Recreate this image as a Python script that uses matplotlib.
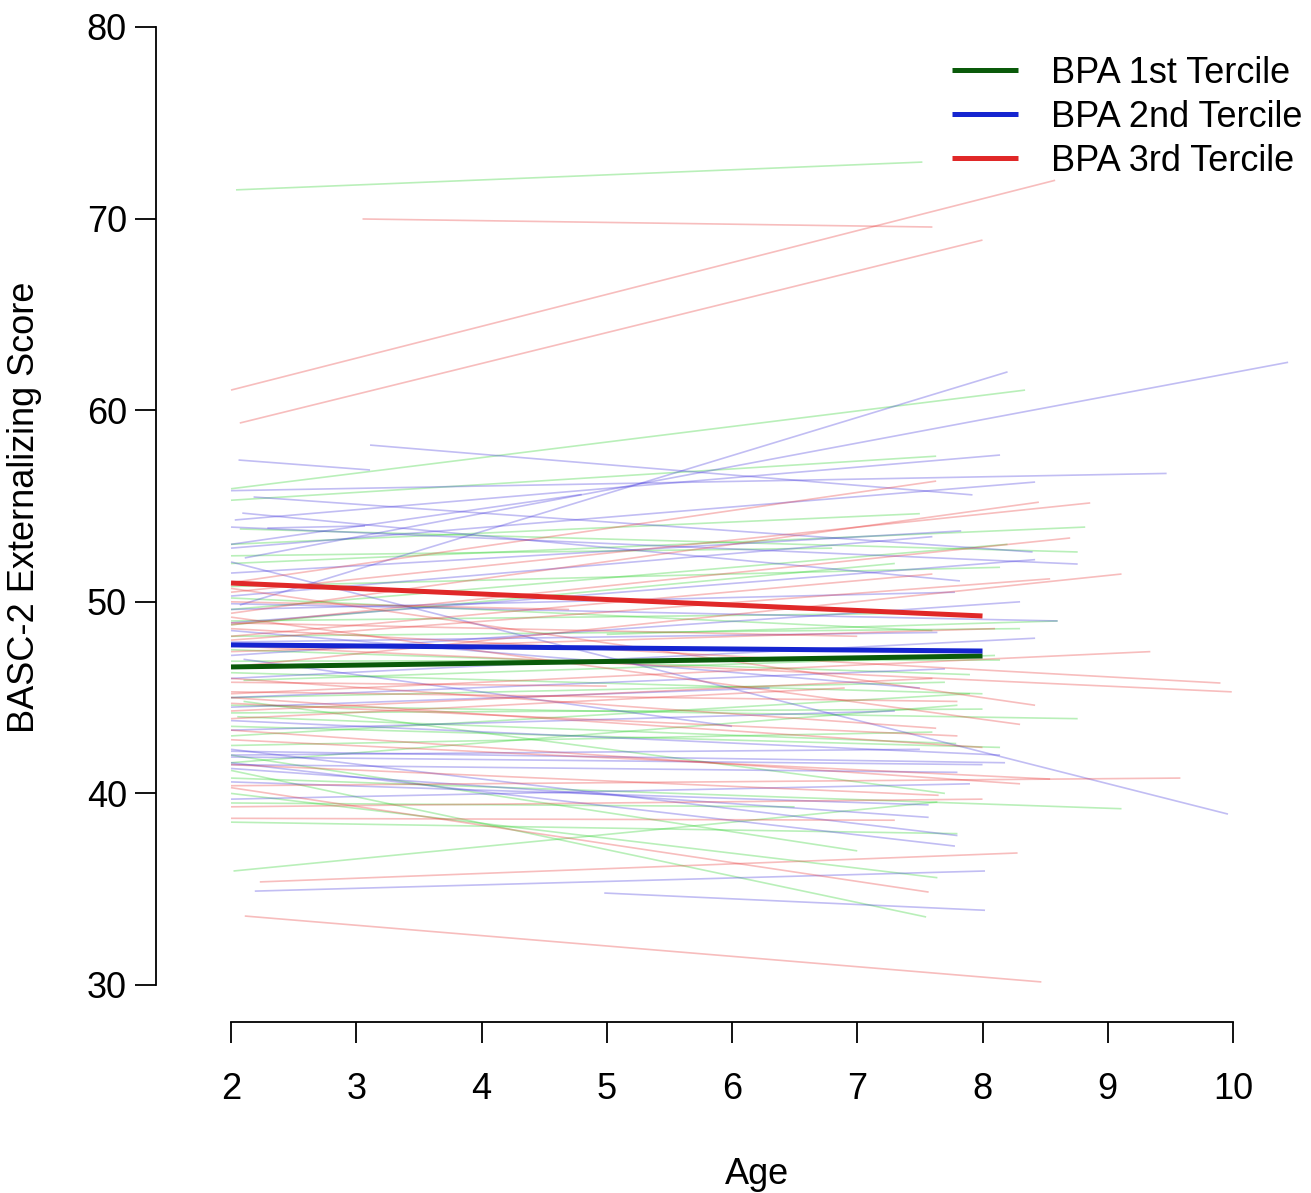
import matplotlib
matplotlib.use('Agg')
import matplotlib.pyplot as plt

plt.rcParams['font.family'] = ['Liberation Sans', 'DejaVu Sans']

# individual trajectories: (age start, age end, score start, score end)
green_x0 = [2.04, 2.0, 2.02, 2.0, 2.0, 2.07, 2.0, 2.0, 2.0, 2.0, 2.0, 2.0, 2.05, 2.0, 2.1, 2.0, 2.0, 2.0,
            2.0, 2.0, 2.0, 2.0, 2.0, 2.0, 2.0, 2.0, 2.0, 5.0, 2.0, 2.0, 2.1, 2.0, 2.0, 2.0]
green_x1 = [7.52, 8.34, 7.64, 7.55, 7.64, 8.76, 7.63, 8.82, 8.14, 8.14, 8.76, 8.14, 7.79, 9.11, 7.7, 7.8, 8.3, 7.5,
            7.7, 7.9, 7.6, 7.9, 6.5, 6.8, 8.0, 8.0, 7.8, 8.6, 7.6, 7.3, 8.1, 7.0, 8.2, 7.5]
green_y0 = [71.5, 55.9, 35.95, 41.2, 40.0, 53.8, 55.3, 52.0, 50.8, 46.9, 44.6, 43.5, 44.0, 40.8, 44.8, 38.5, 48.2, 49.0,
            45.0, 43.0, 42.5, 47.5, 39.5, 52.4, 46.3, 44.2, 41.6, 48.3, 50.2, 48.8, 45.9, 42.0, 49.6, 53.0]
green_y1 = [72.95, 61.05, 39.55, 33.55, 35.6, 52.6, 57.6, 53.9, 51.8, 46.96, 43.9, 42.4, 42.6, 39.2, 40.0, 37.9, 48.6, 49.4,
            45.8, 45.2, 43.2, 46.2, 39.3, 52.8, 45.2, 44.4, 44.6, 49.0, 48.5, 52.0, 47.2, 37.0, 53.0, 54.6]

blue_x0 = [2.07, 2.11, 2.06, 3.11, 2.0, 2.18, 2.09, 2.03, 2.29, 2.0, 2.0, 2.0, 2.0, 2.0, 2.0, 2.0, 2.0, 2.0, 2.0,
           2.0, 2.0, 2.0, 2.0, 2.0, 2.0, 2.0, 2.0, 2.19, 4.98, 2.0, 2.0, 2.0, 2.0, 2.0, 2.1, 2.0, 2.0, 2.0]
blue_x1 = [8.2, 10.44, 3.11, 7.92, 9.47, 8.4, 7.82, 8.14, 3.07, 9.96, 8.42, 7.83, 7.6, 8.42, 8.76, 7.78, 8.3, 8.6, 7.64,
           8.42, 8.14, 8.18, 7.8, 7.57, 7.57, 7.8, 7.78, 8.02, 8.02, 7.3, 7.5, 7.7, 6.3, 8.0, 6.0, 7.9, 7.5, 4.8]
blue_y0 = [49.83, 52.29, 57.4, 58.18, 55.8, 55.47, 54.63, 54.27, 53.85, 52.08, 52.8, 51.5, 50.3, 48.9, 53.9, 49.6, 47.2,
           49.9, 47.9, 46.0, 43.8, 42.2, 41.5, 40.6, 41.3, 42.3, 41.6, 34.9, 34.8, 43.3, 42.0, 45.0, 44.5, 41.9, 47.0,
           39.7, 48.5, 53.0]
blue_y1 = [62.0, 62.5, 56.88, 55.58, 56.7, 52.6, 51.09, 57.66, 53.96, 38.92, 56.25, 53.7, 53.4, 52.2, 51.97, 50.5, 50.0,
           49.0, 48.4, 48.1, 42.0, 41.6, 41.1, 39.4, 38.75, 37.8, 37.25, 35.95, 33.9, 44.3, 42.3, 46.5, 45.5, 41.5, 43.5,
           40.5, 45.5, 55.6]

red_x0 = [3.05, 2.0, 2.07, 2.0, 2.0, 2.0, 2.0, 2.0, 2.0, 2.0, 2.0, 2.0, 2.0, 2.0, 2.0, 2.0, 2.0, 2.0, 2.0, 2.0, 2.0,
          2.0, 2.0, 2.23, 2.11, 2.0, 2.0, 2.0, 2.0, 2.0, 2.0, 2.0, 2.0, 2.0]
red_x1 = [7.6, 8.58, 8.0, 7.63, 8.45, 8.86, 8.7, 7.6, 9.11, 8.54, 8.1, 9.34, 9.9, 9.99, 8.42, 8.3, 7.8, 7.63, 8.0, 8.54,
          9.58, 8.3, 7.65, 8.28, 8.47, 7.57, 7.6, 6.9, 5.0, 4.7, 7.0, 7.8, 8.0, 7.3]
red_y0 = [69.98, 61.05, 59.33, 51.0, 49.4, 50.5, 48.8, 48.2, 46.6, 48.0, 47.4, 45.2, 48.6, 47.7, 50.7, 49.2, 44.7, 46.0,
          45.0, 42.8, 40.4, 43.3, 41.5, 35.38, 33.6, 40.3, 44.3, 43.9, 45.8, 50.0, 48.9, 45.3, 39.3, 38.7]
red_y1 = [69.56, 72.0, 68.88, 56.3, 55.2, 55.16, 53.33, 51.45, 51.45, 51.2, 48.6, 47.4, 45.76, 45.3, 44.6, 43.6, 43.0,
          43.4, 42.4, 40.75, 40.8, 40.5, 39.9, 36.89, 30.16, 34.85, 46.0, 45.5, 45.6, 49.6, 48.2, 44.8, 39.7, 38.6]

# group mean trajectories
mean_age = [2, 8]
mean_green = [46.6, 47.17]
mean_blue = [47.75, 47.43]
mean_red = [50.98, 49.26]
labels = ['BPA 1st Tercile', 'BPA 2nd Tercile', 'BPA 3rd Tercile']

fig = plt.figure(figsize=(13.11, 11.93), dpi=100)
W, H = 1311, 1193
ax = fig.add_axes([156 / W, (H - 1022) / H, (1296 - 156) / W, 1022 / H])

for x0s, x1s, y0s, y1s, col in [(green_x0, green_x1, green_y0, green_y1, (0.1, 0.8, 0.1)),
                                (blue_x0, blue_x1, blue_y0, blue_y1, (0.2, 0.15, 0.85)),
                                (red_x0, red_x1, red_y0, red_y1, (0.9, 0.15, 0.15))]:
    for a, b, c, d in zip(x0s, x1s, y0s, y1s):
        ax.plot([a, b], [c, d], color=col, alpha=0.3, lw=1.2, solid_capstyle='butt')

hg, = ax.plot(mean_age, mean_green, color='#0a5a0a', lw=3.6, solid_capstyle='butt')
hb, = ax.plot(mean_age, mean_blue, color='#1525d0', lw=3.6, solid_capstyle='butt')
hr, = ax.plot(mean_age, mean_red, color='#e02828', lw=3.6, solid_capstyle='butt')

ax.set_xlim(2 - 75 / 125.25, 2 + (1296 - 231) / 125.25)
ax.set_ylim(30 - 37 / 19.16, 30 + 985 / 19.16)

for s in ['top', 'right']:
    ax.spines[s].set_visible(False)
ax.spines['left'].set_bounds(30, 80)
ax.spines['bottom'].set_bounds(2, 10)
ax.spines['left'].set_linewidth(1.3)
ax.spines['bottom'].set_linewidth(1.3)
ax.set_xticks(range(2, 11))
ax.set_yticks(range(30, 81, 10))
ax.tick_params(axis='both', length=15, width=1.3, labelsize=26)
ax.tick_params(axis='x', pad=21)
ax.tick_params(axis='y', pad=6)

fig.text(757 / W, 1 - 1175 / H, 'Age', ha='center', va='center', fontsize=26)
fig.text(25 / W, 1 - 507 / H, 'BASC-2 Externalizing Score', ha='center', va='center',
         rotation=90, fontsize=26)

ax.legend([hg, hb, hr], labels, loc='upper left', bbox_to_anchor=(952 / W, 1 - 56 / H),
          bbox_transform=fig.transFigure, frameon=False, fontsize=26, handlelength=1.83,
          handletextpad=0.9, labelspacing=0.25, borderpad=0, borderaxespad=0)

fig.savefig('out.png', dpi=100)
